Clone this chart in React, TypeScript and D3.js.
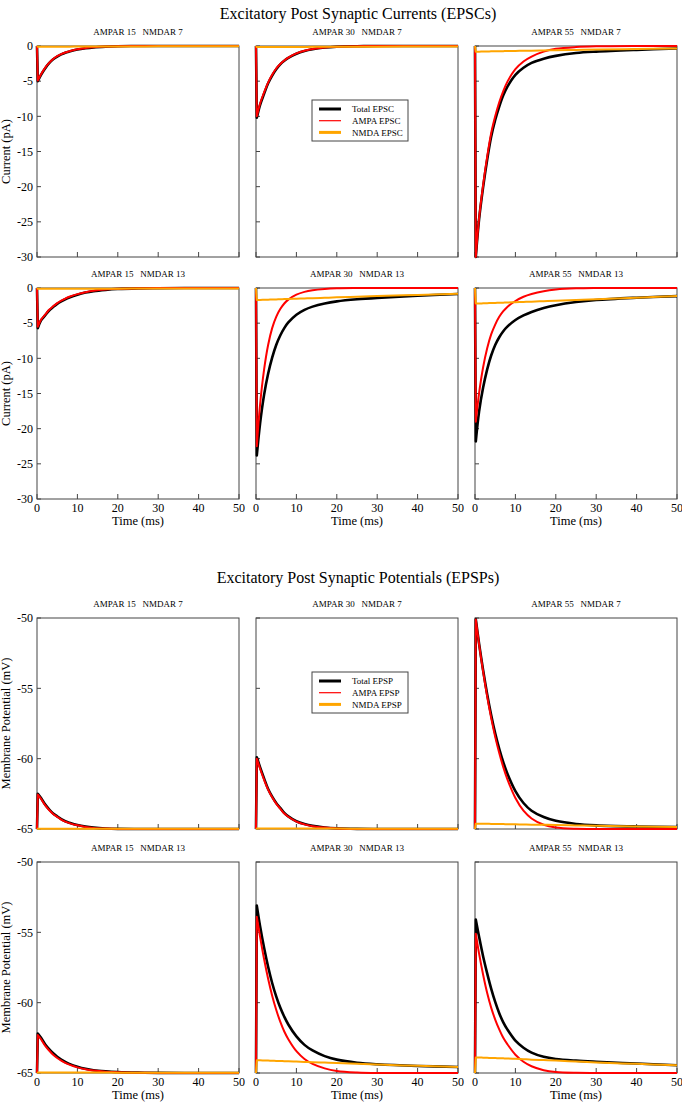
import React from 'react';
import * as d3 from 'd3';

// ---------- data ----------
const TIME_MS = [0, 0.2, 1, 2, 3, 4, 5, 6, 7, 8, 10, 12, 14, 17, 20, 25, 30, 40, 50];
const AMPAR_LEVELS = [15, 30, 55];
const NMDAR_LEVELS = [7, 13];
const X_TICKS = [0, 10, 20, 30, 40, 50];
const EPSC_TICKS = [0, -5, -10, -15, -20, -25, -30];
const EPSP_TICKS = [-50, -55, -60, -65];
const EPSC_LEGEND = ['Total EPSC', 'AMPA EPSC', 'NMDA EPSC'];
const EPSP_LEGEND = ['Total EPSP', 'AMPA EPSP', 'NMDA EPSP'];

// EPSC (pA)
const epscTotal_15_7 = [0, -5.0, -4.1, -3.2, -2.45, -1.9, -1.5, -1.2, -0.95, -0.78, -0.5, -0.32, -0.2, -0.1, -0.04, 0, 0, 0, 0];
const epscAmpa_15_7 = [0, -4.9, -4.0, -3.1, -2.4, -1.85, -1.45, -1.15, -0.92, -0.75, -0.47, -0.3, -0.18, -0.08, -0.03, 0, 0, 0, 0];
const epscNmda_15_7 = [0, -0.1, -0.1, -0.1, -0.1, -0.1, -0.1, -0.09, -0.09, -0.09, -0.08, -0.08, -0.07, -0.07, -0.06, -0.06, -0.05, -0.05, -0.04];

const epscTotal_30_7 = [0, -10.2, -8.4, -6.8, -5.3, -4.2, -3.3, -2.6, -2.1, -1.7, -1.1, -0.7, -0.45, -0.22, -0.1, -0.03, 0, 0, 0];
const epscAmpa_30_7 = [0, -10.0, -8.2, -6.6, -5.2, -4.1, -3.2, -2.55, -2.05, -1.65, -1.05, -0.67, -0.42, -0.2, -0.09, -0.02, 0, 0, 0];
const epscNmda_30_7 = [0, -0.15, -0.15, -0.15, -0.15, -0.14, -0.14, -0.14, -0.14, -0.13, -0.13, -0.13, -0.12, -0.12, -0.11, -0.1, -0.09, -0.08, -0.07];

const epscTotal_55_7 = [0, -30, -24.7, -20.1, -16.2, -12.9, -10.5, -8.6, -7.0, -5.8, -4.1, -3.1, -2.4, -1.8, -1.4, -1.0, -0.8, -0.55, -0.35];
const epscAmpa_55_7 = [0, -30, -24.5, -19.8, -15.8, -12.4, -10.0, -8.0, -6.4, -5.1, -3.3, -2.2, -1.5, -0.8, -0.4, -0.15, -0.05, 0, 0];
const epscNmda_55_7 = [0, -0.8, -0.8, -0.78, -0.77, -0.76, -0.75, -0.74, -0.73, -0.72, -0.7, -0.68, -0.66, -0.63, -0.6, -0.56, -0.51, -0.42, -0.34];

const epscTotal_15_13 = [0, -5.7, -4.6, -3.9, -3.2, -2.7, -2.25, -1.9, -1.6, -1.35, -0.95, -0.65, -0.45, -0.27, -0.15, -0.06, -0.03, 0, 0];
const epscAmpa_15_13 = [0, -5.5, -4.5, -3.8, -3.1, -2.6, -2.15, -1.8, -1.5, -1.25, -0.87, -0.6, -0.4, -0.22, -0.12, -0.04, -0.01, 0, 0];
const epscNmda_15_13 = [0, -0.12, -0.12, -0.12, -0.12, -0.12, -0.11, -0.11, -0.11, -0.11, -0.1, -0.1, -0.1, -0.09, -0.09, -0.08, -0.08, -0.07, -0.06];

const epscTotal_30_13 = [0, -23.8, -19.3, -15.2, -12.2, -9.9, -8.1, -6.75, -5.7, -4.9, -3.8, -3.1, -2.65, -2.2, -1.9, -1.6, -1.4, -1.1, -0.85];
const epscAmpa_30_13 = [0, -22.5, -16.6, -11.6, -8.1, -5.7, -4.1, -3.0, -2.2, -1.65, -0.95, -0.55, -0.32, -0.14, -0.05, -0.01, 0, 0, 0];
const epscNmda_30_13 = [0, -1.7, -1.7, -1.68, -1.66, -1.64, -1.62, -1.6, -1.58, -1.56, -1.52, -1.48, -1.44, -1.39, -1.33, -1.24, -1.15, -0.98, -0.82];

const epscTotal_55_13 = [0, -21.8, -17.6, -14.2, -11.6, -9.6, -8.1, -7.0, -6.15, -5.5, -4.55, -3.9, -3.4, -2.85, -2.45, -2.0, -1.7, -1.38, -1.15];
const epscAmpa_55_13 = [0, -19.0, -15.0, -11.3, -8.6, -6.6, -5.2, -4.1, -3.3, -2.7, -1.85, -1.25, -0.85, -0.45, -0.22, -0.05, 0, 0, 0];
const epscNmda_55_13 = [0, -2.2, -2.2, -2.18, -2.16, -2.14, -2.12, -2.1, -2.08, -2.06, -2.02, -1.98, -1.94, -1.88, -1.82, -1.72, -1.6, -1.38, -1.14];

// EPSP (mV)
const epspTotal_15_7 = [-65, -62.5, -62.8, -63.25, -63.6, -63.9, -64.1, -64.3, -64.45, -64.55, -64.72, -64.83, -64.9, -64.96, -64.99, -65, -65, -65, -65];
const epspAmpa_15_7 = [-65, -62.55, -62.85, -63.3, -63.65, -63.93, -64.14, -64.33, -64.47, -64.58, -64.74, -64.85, -64.92, -64.97, -65, -65, -65, -65, -65];
const epspNmda_15_7 = [-65, -64.98, -64.98, -64.98, -64.98, -64.98, -64.98, -64.98, -64.98, -64.98, -64.98, -64.98, -64.98, -64.98, -64.98, -64.98, -64.98, -64.99, -64.99];

const epspTotal_30_7 = [-65, -59.9, -60.6, -61.4, -62.15, -62.7, -63.15, -63.5, -63.85, -64.1, -64.45, -64.65, -64.78, -64.89, -64.95, -64.99, -65, -65, -65];
const epspAmpa_30_7 = [-65, -60.0, -60.7, -61.5, -62.2, -62.75, -63.2, -63.55, -63.9, -64.13, -64.47, -64.67, -64.8, -64.9, -64.96, -65, -65, -65, -65];
const epspNmda_30_7 = [-65, -64.97, -64.97, -64.97, -64.97, -64.97, -64.97, -64.97, -64.97, -64.97, -64.97, -64.97, -64.97, -64.97, -64.97, -64.98, -64.98, -64.98, -64.98];

const epspTotal_55_7 = [-65, -50.1, -51.8, -53.7, -55.4, -56.9, -58.2, -59.3, -60.25, -61.05, -62.3, -63.15, -63.7, -64.15, -64.42, -64.64, -64.74, -64.82, -64.86];
const epspAmpa_55_7 = [-65, -50.1, -51.85, -53.8, -55.55, -57.1, -58.45, -59.6, -60.6, -61.45, -62.8, -63.7, -64.25, -64.7, -64.9, -64.99, -65, -65, -65];
const epspNmda_55_7 = [-65, -64.62, -64.62, -64.63, -64.63, -64.64, -64.64, -64.65, -64.65, -64.66, -64.67, -64.68, -64.69, -64.7, -64.72, -64.75, -64.77, -64.82, -64.86];

const epspTotal_15_13 = [-65, -62.2, -62.5, -62.95, -63.3, -63.6, -63.85, -64.05, -64.22, -64.35, -64.55, -64.7, -64.8, -64.88, -64.93, -64.97, -64.99, -65, -65];
const epspAmpa_15_13 = [-65, -62.3, -62.6, -63.05, -63.4, -63.7, -63.93, -64.12, -64.28, -64.4, -64.6, -64.74, -64.83, -64.91, -64.95, -64.98, -65, -65, -65];
const epspNmda_15_13 = [-65, -64.97, -64.97, -64.97, -64.97, -64.97, -64.97, -64.97, -64.97, -64.97, -64.97, -64.97, -64.97, -64.97, -64.98, -64.98, -64.98, -64.98, -64.98];

const epspTotal_30_13 = [-65, -53.1, -54.55, -56.1, -57.45, -58.6, -59.55, -60.35, -61.0, -61.55, -62.4, -63.0, -63.4, -63.8, -64.05, -64.27, -64.38, -64.5, -64.57];
const epspAmpa_30_13 = [-65, -53.9, -55.3, -56.9, -58.3, -59.5, -60.5, -61.35, -62.05, -62.6, -63.45, -64.0, -64.35, -64.67, -64.85, -64.96, -65, -65, -65];
const epspNmda_30_13 = [-65, -64.1, -64.1, -64.11, -64.12, -64.13, -64.14, -64.15, -64.16, -64.17, -64.19, -64.21, -64.23, -64.26, -64.29, -64.34, -64.4, -64.49, -64.57];

const epspTotal_55_13 = [-65, -54.1, -55.3, -56.7, -57.9, -59.0, -59.95, -60.75, -61.4, -61.9, -62.7, -63.2, -63.55, -63.85, -64.0, -64.12, -64.2, -64.33, -64.45];
const epspAmpa_55_13 = [-65, -55.1, -56.5, -58.0, -59.3, -60.35, -61.2, -61.9, -62.5, -62.95, -63.7, -64.2, -64.52, -64.8, -64.93, -64.99, -65, -65, -65];
const epspNmda_55_13 = [-65, -63.9, -63.9, -63.91, -63.92, -63.93, -63.94, -63.95, -63.96, -63.97, -63.99, -64.02, -64.05, -64.08, -64.12, -64.18, -64.25, -64.35, -64.45];

const EPSC_SERIES = [
  [[epscTotal_15_7, epscAmpa_15_7, epscNmda_15_7], [epscTotal_30_7, epscAmpa_30_7, epscNmda_30_7], [epscTotal_55_7, epscAmpa_55_7, epscNmda_55_7]],
  [[epscTotal_15_13, epscAmpa_15_13, epscNmda_15_13], [epscTotal_30_13, epscAmpa_30_13, epscNmda_30_13], [epscTotal_55_13, epscAmpa_55_13, epscNmda_55_13]],
];
const EPSP_SERIES = [
  [[epspTotal_15_7, epspAmpa_15_7, epspNmda_15_7], [epspTotal_30_7, epspAmpa_30_7, epspNmda_30_7], [epspTotal_55_7, epspAmpa_55_7, epspNmda_55_7]],
  [[epspTotal_15_13, epspAmpa_15_13, epspNmda_15_13], [epspTotal_30_13, epspAmpa_30_13, epspNmda_30_13], [epspTotal_55_13, epspAmpa_55_13, epspNmda_55_13]],
];

// ---------- styles / layout ----------
const FONT = '"Liberation Serif", "Times New Roman", serif';
const FRAME = '#444';
const COLORS = ['#000000', '#ff0000', '#ffa500'];
const WIDTHS = [2.6, 2, 2];
const LEGEND_WIDTHS = [3, 1.2, 3];
const COL_X = [37, 256, 475];
const PW = 202;
const PH = 211;
const EPSC_ROW_Y = [46, 288];
const EPSP_ROW_Y = [618, 862];

type PanelProps = {
  x0: number; y0: number; domain: [number, number]; yTicks: number[];
  series: number[][]; title: string; showY: boolean; showX: boolean;
  yLabel: string; legend: string[] | null;
};

function Panel({ x0, y0, domain, yTicks, series, title, showY, showX, yLabel, legend }: PanelProps) {
  const x = d3.scaleLinear().domain([0, 50]).range([x0, x0 + PW]);
  const y = d3.scaleLinear().domain(domain).range([y0 + PH, y0]);
  const decayTimes = TIME_MS.slice(1);
  const decay = d3.line<number>().x((_, i) => x(decayTimes[i])).y(d => y(d)).curve(d3.curveCatmullRom.alpha(0.5));
  const pathFor = (s: number[]) => {
    const tail = decay(s.slice(1)) || '';
    return `M${x(TIME_MS[0])},${y(s[0])}L` + tail.slice(1);
  };
  const bottom = y0 + PH;
  const lx = x0 + 56, ly = y0 + 54;
  return (
    <g>
      <text x={x0 + PW / 2} y={y0 - 11} textAnchor="middle" fontSize={9} fontFamily={FONT} style={{ whiteSpace: 'pre' }}>{title}</text>
      <rect x={x0} y={y0} width={PW} height={PH} fill="none" stroke={FRAME} strokeWidth={1} />
      {X_TICKS.map(t => (
        <line key={'xt' + t} x1={x(t)} x2={x(t)} y1={bottom} y2={bottom - 5} stroke={FRAME} />
      ))}
      {yTicks.map(t => (
        <line key={'yt' + t} x1={x0} x2={x0 + 4} y1={y(t)} y2={y(t)} stroke={FRAME} />
      ))}
      {showY && yTicks.map(t => (
        <text key={'yl' + t} x={x0 - 4} y={y(t)} dy="0.35em" textAnchor="end" fontSize={12} fontFamily={FONT}>{t}</text>
      ))}
      {showY && (
        <text transform={`translate(10,${y0 + PH / 2}) rotate(-90)`} textAnchor="middle" fontSize={12.5} fontFamily={FONT}>{yLabel}</text>
      )}
      {showX && X_TICKS.map(t => (
        <text key={'xl' + t} x={x(t)} y={bottom + 13} textAnchor="middle" fontSize={12} fontFamily={FONT}>{t}</text>
      ))}
      {showX && (
        <text x={x0 + PW / 2} y={bottom + 26} textAnchor="middle" fontSize={12.5} fontFamily={FONT}>Time (ms)</text>
      )}
      {series.map((s, i) => (
        <path key={'s' + i} d={pathFor(s)} fill="none" stroke={COLORS[i]} strokeWidth={WIDTHS[i]} strokeLinejoin="round" />
      ))}
      {legend && (
        <g>
          <rect x={lx} y={ly} width={96} height={41} fill="white" stroke={FRAME} strokeWidth={1} />
          {legend.map((name, i) => (
            <g key={name}>
              <line x1={lx + 7} x2={lx + 29} y1={ly + 9 + i * 11.7} y2={ly + 9 + i * 11.7} stroke={COLORS[i]} strokeWidth={LEGEND_WIDTHS[i]} />
              <text x={lx + 40} y={ly + 9 + i * 11.7} dy="0.35em" fontSize={9} fontFamily={FONT}>{name}</text>
            </g>
          ))}
        </g>
      )}
    </g>
  );
}

export default function App() {
  return (
    <svg width={682} height={1102} style={{ position: 'absolute', left: 0, top: 0, background: 'white' }}>
      <rect x={0} y={0} width={682} height={1102} fill="white" />
      <text x={358} y={19} textAnchor="middle" fontSize={16} fontFamily={FONT}>Excitatory Post Synaptic Currents (EPSCs)</text>
      <text x={358} y={583} textAnchor="middle" fontSize={16} fontFamily={FONT}>Excitatory Post Synaptic Potentials (EPSPs)</text>
      {NMDAR_LEVELS.map((n, r) => AMPAR_LEVELS.map((a, c) => (
        <Panel key={'c' + r + c} x0={COL_X[c]} y0={EPSC_ROW_Y[r]} domain={[-30, 0]} yTicks={EPSC_TICKS}
          series={EPSC_SERIES[r][c]} title={`AMPAR ${a}   NMDAR ${n}`} showY={c === 0} showX={r === 1}
          yLabel="Current (pA)" legend={r === 0 && c === 1 ? EPSC_LEGEND : null} />
      )))}
      {NMDAR_LEVELS.map((n, r) => AMPAR_LEVELS.map((a, c) => (
        <Panel key={'p' + r + c} x0={COL_X[c]} y0={EPSP_ROW_Y[r]} domain={[-65, -50]} yTicks={EPSP_TICKS}
          series={EPSP_SERIES[r][c]} title={`AMPAR ${a}   NMDAR ${n}`} showY={c === 0} showX={r === 1}
          yLabel="Membrane Potential (mV)" legend={r === 0 && c === 1 ? EPSP_LEGEND : null} />
      )))}
    </svg>
  );
}
